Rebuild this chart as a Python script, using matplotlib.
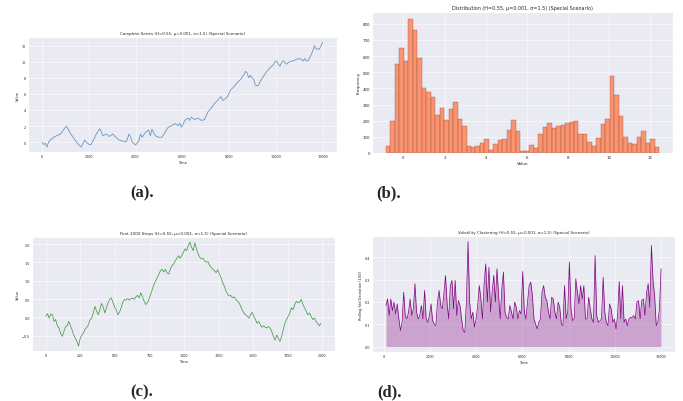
import numpy as np
import matplotlib
matplotlib.use('Agg')
import matplotlib.pyplot as plt
import seaborn as sns

sns.set_style('darkgrid')
plt.rcParams['font.family'] = ['DejaVu Sans']

PARAMS = '(H=0.55, μ=0.001, σ=1.5) (Special Scenario)'

# complete series
a_steps = [0, 70, 140, 210, 280, 350, 490, 630, 770, 840,
           910, 980, 1050, 1120, 1190, 1330, 1470, 1610, 1680, 1750,
           1820, 1890, 1960, 2030, 2110, 2180, 2320, 2460, 2530, 2600,
           2740, 2880, 3020, 3160, 3300, 3440, 3580, 3650, 3720, 3790,
           3860, 4000, 4140, 4210, 4280, 4420, 4560, 4630, 4700, 4770,
           4840, 4980, 5120, 5260, 5330, 5400, 5540, 5680, 5820, 5890,
           5960, 6030, 6100, 6240, 6310, 6380, 6520, 6670, 6810, 6950,
           7020, 7090, 7230, 7370, 7510, 7580, 7650, 7720, 7790, 7930,
           8000, 8070, 8210, 8350, 8490, 8630, 8700, 8770, 8840, 8910,
           8980, 9050, 9120, 9190, 9260, 9330, 9470, 9610, 9750, 9890,
           9960, 10030, 10100, 10170, 10240, 10310, 10450, 10590, 10740, 10880,
           11020, 11160, 11230, 11300, 11370, 11440, 11510, 11580, 11650, 11720,
           11790, 11860, 11930, 12000]
a_values = [0.0, -0.3, -0.15, -0.6, 0.0, 0.25, 0.6, 0.8, 1.0, 1.2,
            1.5, 1.8, 1.95, 1.6, 1.2, 0.6, 0.0, -0.45, -0.6, -0.15,
            0.25, 0.0, -0.15, -0.35, -0.25, 0.15, 1.0, 1.65, 1.35, 0.8,
            1.0, 0.7, 1.0, 0.6, 0.25, 0.15, 0.0, 0.4, 1.0, 0.6,
            0.0, -0.35, 0.15, 1.0, 0.6, 1.2, 1.5, 0.8, 1.6, 1.2,
            0.8, 0.6, 0.6, 1.2, 1.6, 1.85, 2.05, 2.3, 2.05, 2.35,
            1.85, 2.2, 2.7, 3.0, 2.7, 3.1, 2.8, 3.0, 2.7, 2.8,
            3.3, 3.75, 4.2, 4.8, 5.2, 5.45, 5.65, 5.2, 5.3, 5.65,
            6.1, 6.5, 6.9, 7.4, 7.8, 8.4, 8.8, 8.6, 8.0, 8.3,
            8.0, 7.8, 7.1, 7.0, 7.1, 7.55, 8.2, 8.8, 9.25, 9.65,
            9.95, 10.1, 9.7, 9.45, 9.9, 10.1, 9.7, 10.0, 10.1, 10.3,
            10.4, 10.1, 10.4, 10.1, 10.1, 10.5, 10.9, 11.35, 12.0, 11.55,
            11.6, 11.55, 12.0, 12.4]

# histogram counts, panel (b)
hist_lo, hist_hi = -0.85, 12.42
hist_counts = [42, 200, 552, 648, 572, 832, 762, 590, 400, 380,
               348, 232, 278, 206, 274, 316, 210, 168, 42, 38,
               46, 59, 88, 21, 53, 80, 84, 143, 206, 135,
               10, 15, 48, 32, 120, 158, 183, 152, 164, 173,
               183, 194, 200, 118, 118, 67, 46, 95, 179, 210,
               474, 358, 227, 101, 63, 57, 99, 137, 59, 84, 36]

# first 2000 steps, panel (c)
c_values = [0.03, 0.10, -0.02, 0.09, 0.07, -0.11, -0.06, -0.23, -0.29, -0.43,
            -0.52, -0.39, -0.25, -0.23, -0.11, -0.23, -0.34, -0.48, -0.57, -0.66,
            -0.78, -0.57, -0.48, -0.43, -0.32, -0.27, -0.20, -0.06, -0.02, 0.12,
            0.30, 0.17, 0.07, 0.21, 0.38, 0.28, 0.12, 0.26, 0.40, 0.49,
            0.53, 0.40, 0.28, 0.21, 0.07, 0.14, 0.26, 0.41, 0.49, 0.47,
            0.51, 0.47, 0.51, 0.53, 0.49, 0.56, 0.60, 0.53, 0.67, 0.56,
            0.44, 0.35, 0.40, 0.49, 0.63, 0.76, 0.90, 0.99, 1.08, 1.18,
            1.27, 1.31, 1.24, 1.31, 1.22, 1.18, 1.31, 1.41, 1.45, 1.54,
            1.61, 1.68, 1.61, 1.68, 1.77, 1.87, 1.82, 1.96, 2.05, 1.91,
            1.82, 2.03, 1.87, 1.73, 1.64, 1.59, 1.61, 1.54, 1.50, 1.52,
            1.41, 1.36, 1.31, 1.27, 1.22, 1.30, 1.18, 1.08, 0.95, 0.85,
            0.72, 0.63, 0.58, 0.60, 0.53, 0.56, 0.49, 0.44, 0.40, 0.30,
            0.19, 0.12, 0.07, 0.03, -0.02, 0.07, 0.14, 0.03, -0.06, -0.16,
            -0.11, -0.20, -0.27, -0.23, -0.27, -0.29, -0.25, -0.29, -0.39, -0.52,
            -0.62, -0.48, -0.57, -0.66, -0.52, -0.34, -0.16, -0.06, 0.03, 0.12,
            0.26, 0.21, 0.35, 0.44, 0.40, 0.41, 0.49, 0.35, 0.26, 0.17,
            0.07, 0.12, 0.03, -0.06, -0.02, -0.11, -0.16, -0.23, -0.17]

# rolling std (window 100), panel (d)
d_values = [0.184, 0.213, 0.139, 0.213, 0.161, 0.199, 0.146, 0.191, 0.124, 0.072,
            0.109, 0.243, 0.139, 0.124, 0.154, 0.213, 0.139, 0.169, 0.281, 0.154,
            0.124, 0.139, 0.184, 0.124, 0.251, 0.124, 0.109, 0.139, 0.191, 0.116,
            0.101, 0.094, 0.199, 0.251, 0.184, 0.169, 0.236, 0.318, 0.191, 0.124,
            0.273, 0.296, 0.169, 0.296, 0.139, 0.206, 0.184, 0.124, 0.072, 0.064,
            0.199, 0.470, 0.199, 0.124, 0.154, 0.087, 0.124, 0.184, 0.273, 0.213,
            0.124, 0.281, 0.370, 0.199, 0.355, 0.154, 0.243, 0.318, 0.199, 0.348,
            0.228, 0.124, 0.258, 0.333, 0.154, 0.131, 0.124, 0.184, 0.154, 0.124,
            0.199, 0.176, 0.124, 0.161, 0.146, 0.336, 0.154, 0.124, 0.199, 0.273,
            0.288, 0.228, 0.124, 0.101, 0.079, 0.109, 0.124, 0.243, 0.273, 0.221,
            0.206, 0.154, 0.124, 0.221, 0.213, 0.154, 0.124, 0.199, 0.176, 0.101,
            0.094, 0.273, 0.124, 0.154, 0.378, 0.169, 0.116, 0.124, 0.303, 0.243,
            0.191, 0.273, 0.213, 0.273, 0.124, 0.124, 0.221, 0.169, 0.124, 0.109,
            0.407, 0.139, 0.109, 0.116, 0.124, 0.310, 0.154, 0.109, 0.094, 0.191,
            0.169, 0.109, 0.124, 0.079, 0.139, 0.291, 0.124, 0.273, 0.109, 0.124,
            0.094, 0.124, 0.131, 0.131, 0.139, 0.124, 0.199, 0.206, 0.124, 0.206,
            0.213, 0.139, 0.243, 0.281, 0.176, 0.452, 0.296, 0.228, 0.094, 0.109,
            0.169, 0.348]

c_steps = np.linspace(0, 1990, len(c_values))
d_steps = np.linspace(99, 11999, len(d_values))
edges = np.linspace(hist_lo, hist_hi, len(hist_counts) + 1)

fig = plt.figure(figsize=(6.83, 4.02), dpi=100)
axA = fig.add_axes([0.041, 0.619, 0.452, 0.286])
axB = fig.add_axes([0.545, 0.617, 0.440, 0.351])
axC = fig.add_axes([0.047, 0.124, 0.443, 0.284])
axD = fig.add_axes([0.545, 0.122, 0.443, 0.288])

def style(ax, fs):
    ax.tick_params(labelsize=fs * 0.85, pad=1.5, length=0)
    ax.xaxis.label.set_size(fs * 0.9)
    ax.yaxis.label.set_size(fs * 0.9)
    ax.xaxis.labelpad = 1.5
    ax.yaxis.labelpad = 1.5
    ax.grid(True, color='white', linewidth=0.4)

axA.plot(a_steps, a_values, color='steelblue', linewidth=0.6, alpha=0.8)
axA.set_title('Complete Series ' + PARAMS, fontsize=2.9, pad=2)
axA.set_xlabel('Time')
axA.set_ylabel('Value')
style(axA, 2.9)

axB.bar(edges[:-1], hist_counts, width=np.diff(edges), align='edge',
        color='coral', alpha=0.8, edgecolor='#8a4a3a', linewidth=0.3)
axB.set_xticks([0, 2, 4, 6, 8, 10, 12])
axB.set_yticks(range(0, 801, 100))
axB.set_title('Distribution ' + PARAMS, fontsize=3.5, pad=2)
axB.set_xlabel('Value')
axB.set_ylabel('Frequency')
style(axB, 3.4)

axC.plot(c_steps, c_values, color='forestgreen', linewidth=0.5, alpha=0.9)
axC.set_xticks(range(0, 2001, 250))
axC.set_title('First 2000 Steps ' + PARAMS, fontsize=2.95, pad=2)
axC.set_xlabel('Time')
axC.set_ylabel('Value')
style(axC, 2.9)

axD.plot(d_steps, d_values, color='purple', linewidth=0.5)
axD.fill_between(d_steps, 0, d_values, color='purple', alpha=0.3, linewidth=0)
axD.set_xticks(range(0, 12001, 2000))
axD.set_title('Volatility Clustering ' + PARAMS, fontsize=2.9, pad=2)
axD.set_xlabel('Time')
axD.set_ylabel('Rolling Std Deviation (100)')
style(axD, 2.9)

cap = dict(fontsize=12, fontweight='bold', family='Liberation Serif',
           ha='center', va='center')
fig.text(142 / 683, 1 - 193 / 402, '(a).', **cap)
fig.text(389 / 683, 1 - 193 / 402, '(b).', **cap)
fig.text(142 / 683, 1 - 392 / 402, '(c).', **cap)
fig.text(389 / 683, 1 - 392 / 402, '(d).', **cap)

fig.savefig('out.png', dpi=100)
